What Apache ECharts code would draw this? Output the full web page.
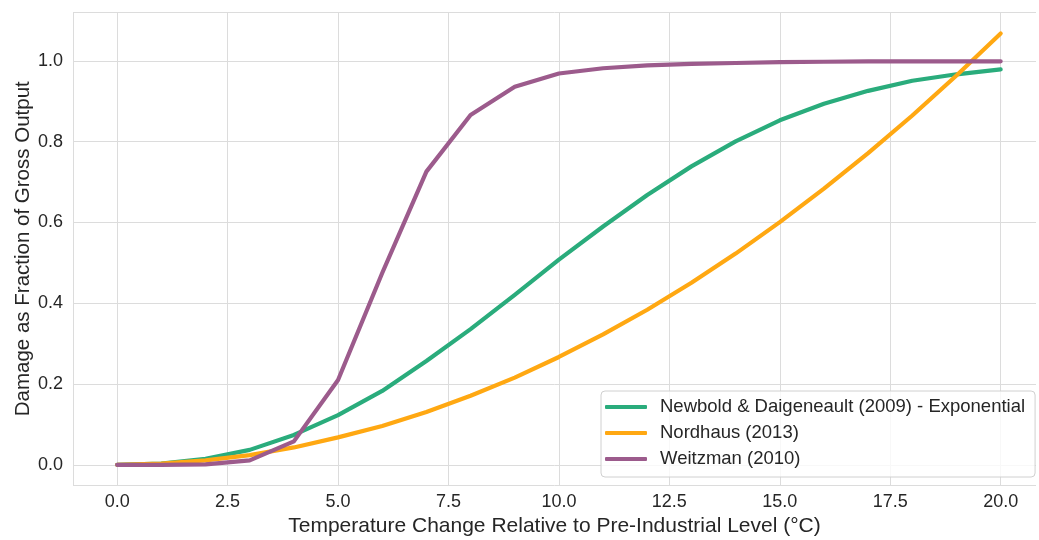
<!DOCTYPE html>
<html>
<head>
<meta charset="utf-8">
<script src="https://cdn.jsdelivr.net/npm/echarts@6/dist/echarts.min.js"></script>
<style>
  html, body { margin: 0; padding: 0; background: #ffffff; }
  #chart { width: 1039px; height: 540px; }
</style>
</head>
<body>
<div id="chart"></div>
<script>
// Warming above pre-industrial level, °C
const temperatures = [0, 1, 2, 3, 4, 5, 6, 7, 8, 9, 10, 11, 12, 13, 14, 15, 16, 17, 18, 19, 20];

// Damage as a fraction of gross output for each damage function
const newbold = [0, 0.003, 0.015, 0.037, 0.074, 0.123, 0.183, 0.257, 0.336, 0.421, 0.508,
  0.590, 0.668, 0.739, 0.801, 0.853, 0.894, 0.926, 0.951, 0.967, 0.979];
const nordhaus = [0, 0.003, 0.011, 0.024, 0.043, 0.068, 0.096, 0.131, 0.171, 0.216, 0.267,
  0.323, 0.384, 0.451, 0.523, 0.601, 0.684, 0.772, 0.865, 0.964, 1.068];
const weitzman = [0, 0, 0.001, 0.011, 0.058, 0.210, 0.475, 0.726, 0.866, 0.936, 0.969,
  0.982, 0.989, 0.993, 0.995, 0.997, 0.998, 0.999, 0.999, 0.999, 0.999];

const seriesNames = ['Newbold & Daigeneault (2009) - Exponential', 'Nordhaus (2013)', 'Weitzman (2010)'];
const seriesColors = ['#2aac7c', '#ffa812', '#9c5b8c'];

const xTicks = [0, 2.5, 5, 7.5, 10, 12.5, 15, 17.5, 20];
const yTicks = [0, 0.2, 0.4, 0.6, 0.8, 1.0];

// axis extents; the frame edges are drawn as grid lines at these values
const X_MIN = -1, X_MAX = 20.8;
const Y_MIN = -0.05, Y_MAX = 1.12;

const FONT = '"Liberation Sans", Arial, sans-serif';
const TEXT = '#262626';
const GRIDLINE = '#dcdcdc';

const pairs = vals => temperatures.map((t, i) => [t, vals[i]]);

const chart = echarts.init(document.getElementById('chart'), null, { renderer: 'canvas' });

chart.setOption({
  animation: false,
  backgroundColor: '#ffffff',
  textStyle: { fontFamily: FONT },
  grid: {
    left: 73, top: 12.5, width: 963, height: 472.5, show: false,
    outerBoundsMode: 'none', containLabel: false
  },
  xAxis: {
    type: 'value', min: X_MIN, max: X_MAX,
    name: 'Temperature Change Relative to Pre-Industrial Level (°C)',
    nameLocation: 'middle', nameGap: 31, nameMoveOverlap: false,
    nameTextStyle: { fontFamily: FONT, fontSize: 21, color: TEXT },
    axisLine: { show: false },
    axisTick: { show: false, customValues: [X_MIN].concat(xTicks) },
    axisLabel: {
      customValues: xTicks, margin: 8, fontFamily: FONT, fontSize: 18, color: TEXT,
      formatter: v => v.toFixed(1)
    },
    splitLine: { show: true, lineStyle: { color: GRIDLINE, width: 1 } }
  },
  yAxis: {
    type: 'value', min: Y_MIN, max: Y_MAX,
    name: 'Damage as Fraction of Gross Output',
    nameLocation: 'middle', nameGap: 39, nameMoveOverlap: false,
    nameTextStyle: { fontFamily: FONT, fontSize: 20.5, color: TEXT },
    axisLine: { show: false },
    axisTick: { show: false, customValues: [Y_MIN].concat(yTicks, [Y_MAX]) },
    axisLabel: {
      customValues: yTicks, margin: 10, fontFamily: FONT, fontSize: 18, color: TEXT,
      formatter: v => v.toFixed(1)
    },
    splitLine: { show: true, lineStyle: { color: GRIDLINE, width: 1 } }
  },
  legend: {
    orient: 'vertical',
    left: 601, top: 391,
    padding: [6, 10, 8, 4],
    backgroundColor: 'rgba(255,255,255,0.8)',
    borderColor: '#d0d0d0', borderWidth: 1, borderRadius: 4,
    icon: 'roundRect',
    itemWidth: 42, itemHeight: 4, itemGap: 6,
    textStyle: { fontFamily: FONT, fontSize: 18.5, color: TEXT, lineHeight: 20, padding: [0, 0, 0, 8] },
    data: seriesNames
  },
  series: [newbold, nordhaus, weitzman].map((vals, i) => ({
    name: seriesNames[i],
    type: 'line',
    data: pairs(vals),
    showSymbol: false,
    symbol: 'none',
    color: seriesColors[i],
    lineStyle: { width: 4.2, color: seriesColors[i], cap: 'round', join: 'round' },
    z: 2 + i
  }))
});
</script>
</body>
</html>
